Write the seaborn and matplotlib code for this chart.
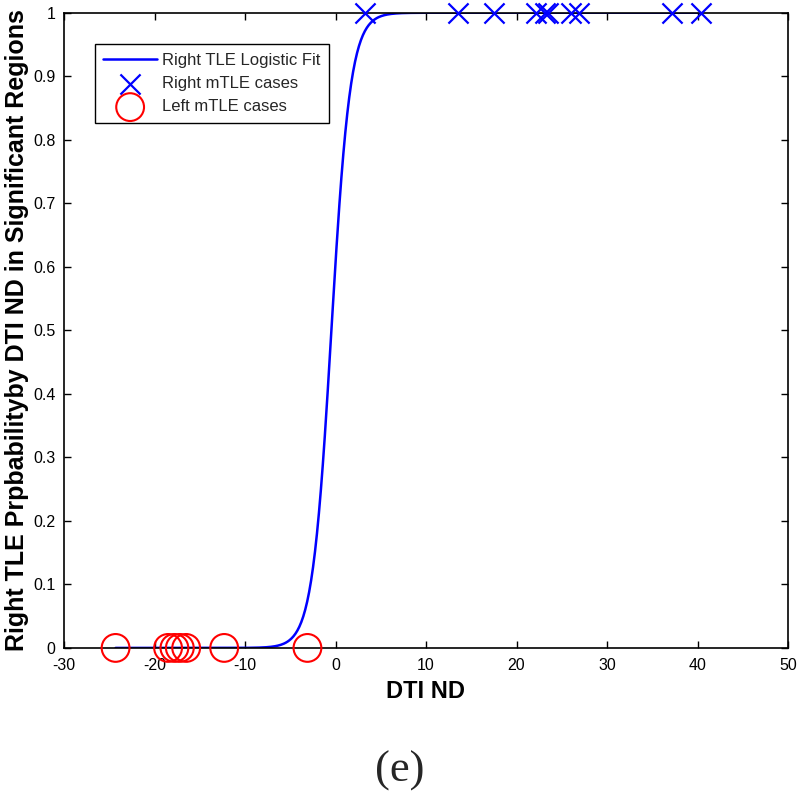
import numpy as np
import pandas as pd
import seaborn as sns
import matplotlib.pyplot as plt

# case values
right_cases = [3.3, 13.5, 17.5, 22.2, 23.2, 23.5, 26.0, 26.9, 37.2, 40.4]
left_cases = [-24.3, -18.5, -17.8, -17.2, -16.5, -12.3, -3.1]

# logistic fit coefficients (estimated from the curve)
b0 = 0.43
b1 = 0.95

x_ticks = [-30, -20, -10, 0, 10, 20, 30, 40, 50]
y_ticks = [0, 0.1, 0.2, 0.3, 0.4, 0.5, 0.6, 0.7, 0.8, 0.9, 1]

sns.set_style("ticks")
plt.rcParams['font.family'] = ['Liberation Sans', 'DejaVu Sans']
plt.rcParams['xtick.direction'] = 'in'
plt.rcParams['ytick.direction'] = 'in'
plt.rcParams['axes.unicode_minus'] = False

xs = np.linspace(min(left_cases), max(right_cases), 600)
fit = pd.DataFrame({"x": xs, "p": 1 / (1 + np.exp(-(b0 + b1 * xs)))})
right = pd.DataFrame({"x": right_cases, "y": 1.0})
left = pd.DataFrame({"x": left_cases, "y": 0.0})

fig = plt.figure(figsize=(8, 7.95), dpi=100)
ax = fig.add_axes([0.08, 0.185, 0.905, 0.799])

sns.lineplot(data=fit, x="x", y="p", color="blue", lw=1.8, ax=ax,
             label="Right TLE Logistic Fit")
sns.scatterplot(data=right, x="x", y="y", marker="x", s=210, color="blue",
                linewidth=1.6, ax=ax, label="Right mTLE cases", clip_on=False, zorder=5)
sns.scatterplot(data=left, x="x", y="y", marker="o", s=400, facecolor="none",
                edgecolor="red", linewidth=1.5, ax=ax, label="Left mTLE cases",
                clip_on=False, zorder=5)

ax.set_xlim(-30, 50)
ax.set_ylim(0, 1)
ax.set_xticks(x_ticks)
ax.set_yticks(y_ticks)
ax.set_yticklabels([f"{t:g}" for t in y_ticks])
ax.tick_params(labelsize=11.5, top=True, right=True, length=5, width=1, colors="black")
ax.tick_params(axis="x", pad=7)
ax.tick_params(axis="y", pad=6)
for s in ax.spines.values():
    s.set_linewidth(1.2)
    s.set_color("black")

ax.set_xlabel("DTI ND", fontsize=17, fontweight="bold", labelpad=5, color="black")
ax.set_ylabel("Right TLE Prpbabilityby DTI ND in Significant Regions",
              fontsize=18, fontweight="bold", labelpad=3, color="black")

leg = ax.legend(loc="upper left", bbox_to_anchor=(0.043, 0.95), fontsize=12,
                frameon=True, fancybox=False, edgecolor="black", framealpha=1,
                handlelength=3.2, handletextpad=0.3, borderpad=0.5,
                labelspacing=0.5, borderaxespad=0)
leg.get_frame().set_linewidth(1)

fig.text(0.5, 0.031, "(e)", ha="center", va="center", fontsize=32,
         family=["Liberation Serif", "DejaVu Serif"])

fig.savefig("out.png", dpi=100)
